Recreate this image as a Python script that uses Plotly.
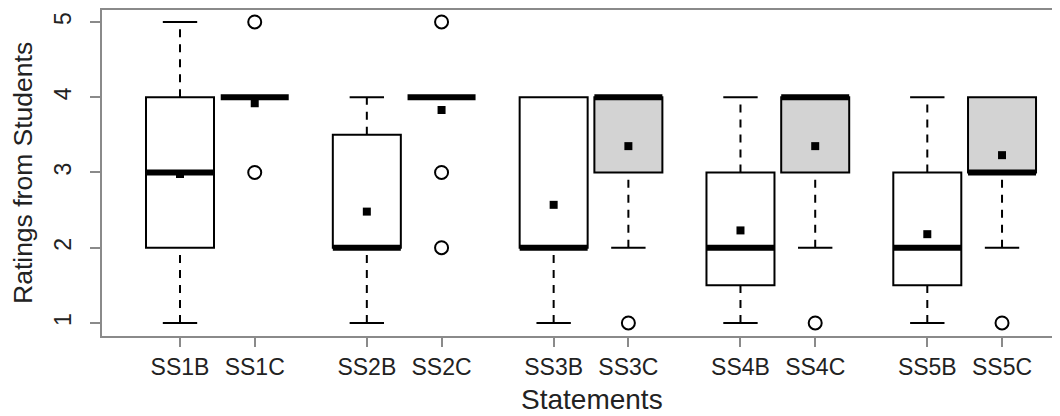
import plotly.graph_objects as go

# ---- data ----
labels = ["SS1B", "SS1C", "SS2B", "SS2C", "SS3B", "SS3C", "SS4B", "SS4C", "SS5B", "SS5C"]
q1 = [2, 4, 2, 4, 2, 3, 1.5, 3, 1.5, 3]
median = [3, 4, 2, 4, 2, 4, 2, 4, 2, 3]
q3 = [4, 4, 3.5, 4, 4, 4, 3, 4, 3, 4]
lower_whisker = [1, 4, 1, 4, 1, 2, 1, 2, 1, 2]
upper_whisker = [5, 4, 4, 4, 4, 4, 4, 4, 4, 4]
means = [2.98, 3.92, 2.48, 3.83, 2.57, 3.35, 2.23, 3.35, 2.18, 3.23]
outliers = [[], [5, 3], [], [5, 3, 2], [], [1], [], [1], [], [1]]
y_ticks = [1, 2, 3, 4, 5]

# ---- layout constants ----
# pairs of boxes (B, C) with a gap between statements
positions = [1 + (i // 2) * 2.5 + (i % 2) for i in range(len(labels))]
box_half = 0.455
cap_half = 0.23
fill_colors = ["white" if lab.endswith("B") else "#d3d3d3" for lab in labels]
FONT = "Liberation Sans, Arial, sans-serif"
AXIS_GRAY = "#8a8a8a"
TEXT = "#222"

W, H = 1052, 408          # page body adds an 8px offset
ML, MT, MB = 94, 2, 80
PW = W - ML
PH = H - MT - MB

fig = go.Figure()
shapes = []
for i, x in enumerate(positions):
    # whiskers (dashed) and caps
    if lower_whisker[i] < q1[i]:
        shapes.append(dict(type="line", xref="x", yref="y", x0=x, x1=x, y0=lower_whisker[i], y1=q1[i],
                           line=dict(color="black", width=2, dash="8px,7px"), layer="below"))
        shapes.append(dict(type="line", xref="x", yref="y", x0=x - cap_half, x1=x + cap_half,
                           y0=lower_whisker[i], y1=lower_whisker[i],
                           line=dict(color="black", width=2), layer="below"))
    if upper_whisker[i] > q3[i]:
        shapes.append(dict(type="line", xref="x", yref="y", x0=x, x1=x, y0=q3[i], y1=upper_whisker[i],
                           line=dict(color="black", width=2, dash="8px,7px"), layer="below"))
        shapes.append(dict(type="line", xref="x", yref="y", x0=x - cap_half, x1=x + cap_half,
                           y0=upper_whisker[i], y1=upper_whisker[i],
                           line=dict(color="black", width=2), layer="below"))
    # box
    if q3[i] > q1[i]:
        shapes.append(dict(type="rect", xref="x", yref="y", x0=x - box_half, x1=x + box_half,
                           y0=q1[i], y1=q3[i], fillcolor=fill_colors[i],
                           line=dict(color="black", width=2), layer="below"))
    # median
    shapes.append(dict(type="line", xref="x", yref="y", x0=x - box_half, x1=x + box_half,
                       y0=median[i], y1=median[i], line=dict(color="black", width=6), layer="below"))

# outliers
ox, oy = [], []
for i, x in enumerate(positions):
    for v in outliers[i]:
        ox.append(x)
        oy.append(v)
fig.add_trace(go.Scatter(x=ox, y=oy, mode="markers",
                         marker=dict(symbol="circle-open", size=13, color="black", line=dict(width=2)),
                         showlegend=False, hoverinfo="skip"))
# means
fig.add_trace(go.Scatter(x=positions, y=means, mode="markers",
                         marker=dict(symbol="square", size=8, color="black"),
                         showlegend=False, hoverinfo="skip"))

px_per_unit = 74.73
x_left = 1 - 78 / px_per_unit
x_right = x_left + PW / px_per_unit

fig.update_layout(
    width=W, height=H,
    margin=dict(l=ML, r=0, t=MT, b=MB, autoexpand=False),
    paper_bgcolor="white", plot_bgcolor="white",
    shapes=shapes,
    font=dict(family=FONT, color=TEXT),
    xaxis=dict(range=[x_left, x_right], tickvals=positions, ticktext=labels,
               showgrid=False, zeroline=False, showline=True, mirror=True,
               linecolor=AXIS_GRAY, linewidth=2, ticks="outside", ticklen=9,
               tickcolor=AXIS_GRAY, tickwidth=2, tickfont=dict(size=23, color=TEXT)),
    yaxis=dict(range=[0.827, 5.159], tickvals=y_ticks, ticktext=[str(t) for t in y_ticks],
               showgrid=False, zeroline=False, showline=True, mirror=False,
               linecolor=AXIS_GRAY, linewidth=2, ticks="outside", ticklen=10,
               tickcolor=AXIS_GRAY, tickwidth=2, tickangle=-90, ticklabelstandoff=10,
               tickfont=dict(size=23, color=TEXT)),
    annotations=[
        dict(text="Statements", xref="paper", yref="paper",
             x=(584 - ML) / PW, y=-(391 - (MT + PH)) / PH,
             xanchor="center", yanchor="middle", showarrow=False,
             font=dict(size=28, color=TEXT)),
        dict(text="Ratings from Students", xref="paper", yref="paper",
             x=-(ML - 15) / PW, y=0.5, textangle=-90,
             xanchor="center", yanchor="middle", showarrow=False,
             font=dict(size=26.5, color=TEXT)),
    ],
)

fig.write_html("out.html")
